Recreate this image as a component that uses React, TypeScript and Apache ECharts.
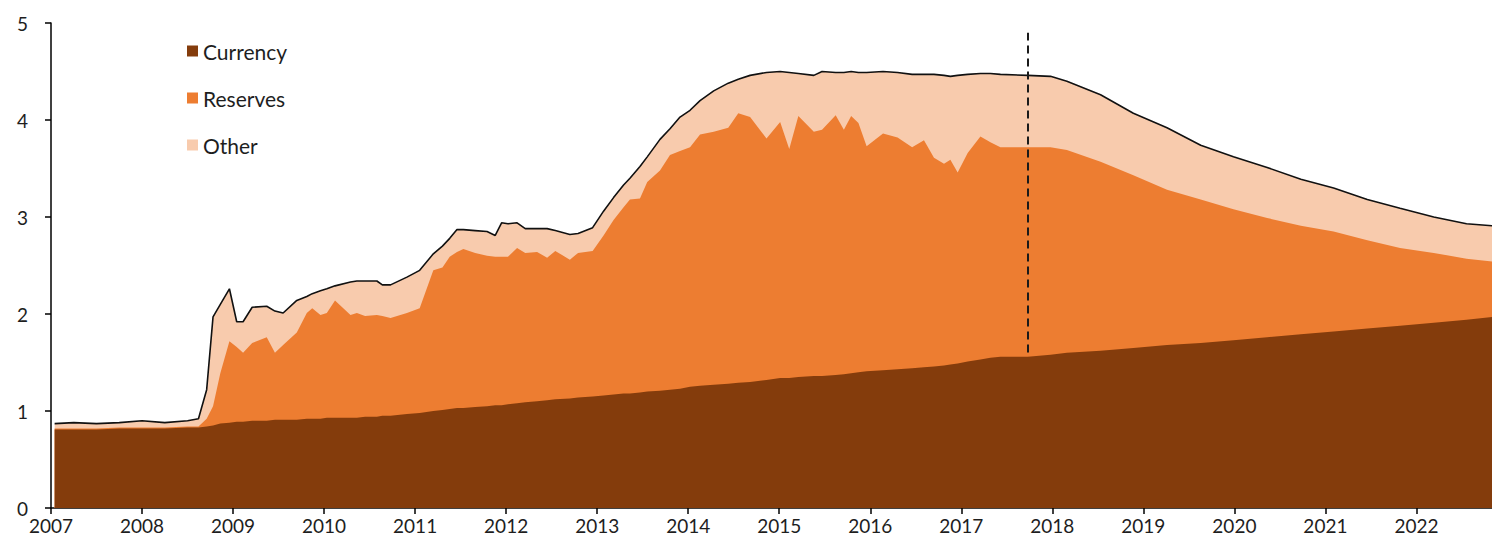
import React, { useEffect, useRef } from "react";
import * as echarts from "echarts";

// Dates (decimal years)
const dates = [
  2007.04, 2007.25, 2007.5, 2007.75, 2008.0, 2008.25, 2008.5, 2008.62, 2008.71, 2008.78,
  2008.86, 2008.96, 2009.04, 2009.11, 2009.21, 2009.37, 2009.46, 2009.55, 2009.7, 2009.81,
  2009.87, 2009.96, 2010.03, 2010.12, 2010.29, 2010.36, 2010.45, 2010.58, 2010.64, 2010.73,
  2010.91, 2011.05, 2011.2, 2011.3, 2011.38, 2011.46, 2011.53, 2011.66, 2011.79, 2011.88,
  2011.95, 2012.02, 2012.12, 2012.21, 2012.34, 2012.45, 2012.54, 2012.7, 2012.79, 2012.95,
  2013.07, 2013.18, 2013.29, 2013.36, 2013.47, 2013.55, 2013.69, 2013.8, 2013.91, 2014.02,
  2014.13, 2014.28, 2014.44, 2014.55, 2014.68, 2014.86, 2015.01, 2015.11, 2015.21, 2015.38,
  2015.47, 2015.62, 2015.71, 2015.79, 2015.87, 2015.96, 2016.14, 2016.3, 2016.46, 2016.59,
  2016.7, 2016.81, 2016.88, 2016.96, 2017.07, 2017.21, 2017.32, 2017.43, 2017.73, 2017.98,
  2018.16, 2018.53, 2018.89, 2019.26, 2019.63, 2019.99, 2020.36, 2020.73, 2021.09, 2021.46,
  2021.82, 2022.19, 2022.55, 2022.83,
];

// Trillions of dollars
const currency = [
  0.81, 0.81, 0.81, 0.82, 0.82, 0.82, 0.83, 0.83, 0.84, 0.85,
  0.87, 0.88, 0.89, 0.89, 0.9, 0.9, 0.91, 0.91, 0.91, 0.92,
  0.92, 0.92, 0.93, 0.93, 0.93, 0.93, 0.94, 0.94, 0.95, 0.95,
  0.97, 0.98, 1.0, 1.01, 1.02, 1.03, 1.03, 1.04, 1.05, 1.06,
  1.06, 1.07, 1.08, 1.09, 1.1, 1.11, 1.12, 1.13, 1.14, 1.15,
  1.16, 1.17, 1.18, 1.18, 1.19, 1.2, 1.21, 1.22, 1.23, 1.25,
  1.26, 1.27, 1.28, 1.29, 1.3, 1.32, 1.34, 1.34, 1.35, 1.36,
  1.36, 1.37, 1.38, 1.39, 1.4, 1.41, 1.42, 1.43, 1.44, 1.45,
  1.46, 1.47, 1.48, 1.49, 1.51, 1.53, 1.55, 1.56, 1.56, 1.58,
  1.6, 1.62, 1.65, 1.68, 1.7, 1.73, 1.76, 1.79, 1.82, 1.85,
  1.88, 1.91, 1.94, 1.97,
];

const reserves = [
  0.01, 0.01, 0.01, 0.01, 0.01, 0.01, 0.01, 0.01, 0.08, 0.2,
  0.52, 0.84, 0.77, 0.71, 0.8, 0.86, 0.69, 0.77, 0.9, 1.09,
  1.14, 1.07, 1.08, 1.21, 1.06, 1.08, 1.04, 1.05, 1.03, 1.01,
  1.04, 1.08, 1.45, 1.47, 1.57, 1.61, 1.64, 1.59, 1.55, 1.53,
  1.53, 1.52, 1.6, 1.54, 1.54, 1.47, 1.53, 1.43, 1.49, 1.5,
  1.65, 1.8, 1.92, 2.0, 2.0, 2.16, 2.27, 2.42, 2.45, 2.47,
  2.59, 2.61, 2.64, 2.78, 2.73, 2.49, 2.64, 2.36, 2.69, 2.52,
  2.54, 2.68, 2.52, 2.65, 2.57, 2.32, 2.44, 2.39, 2.28, 2.34,
  2.15, 2.08, 2.11, 1.97, 2.15, 2.3, 2.22, 2.16, 2.16, 2.14,
  2.09, 1.95, 1.78, 1.6, 1.48, 1.35, 1.23, 1.12, 1.03, 0.91,
  0.8, 0.72, 0.63, 0.57,
];

const other = [
  0.05, 0.06, 0.05, 0.05, 0.07, 0.05, 0.06, 0.08, 0.3, 0.92,
  0.71, 0.54, 0.26, 0.32, 0.37, 0.32, 0.43, 0.33, 0.33, 0.17,
  0.15, 0.25, 0.25, 0.15, 0.34, 0.33, 0.36, 0.35, 0.32, 0.34,
  0.37, 0.39, 0.17, 0.22, 0.19, 0.23, 0.2, 0.23, 0.25, 0.22,
  0.35, 0.34, 0.26, 0.25, 0.24, 0.3, 0.21, 0.26, 0.2, 0.24,
  0.25, 0.23, 0.23, 0.22, 0.33, 0.26, 0.32, 0.27, 0.35, 0.38,
  0.35, 0.42, 0.46, 0.35, 0.43, 0.68, 0.52, 0.79, 0.44, 0.58,
  0.6, 0.44, 0.59, 0.46, 0.52, 0.76, 0.64, 0.67, 0.75, 0.68,
  0.86, 0.91, 0.86, 1.0, 0.81, 0.65, 0.71, 0.75, 0.74, 0.73,
  0.71, 0.69, 0.64, 0.64, 0.56, 0.54, 0.52, 0.48, 0.45, 0.42,
  0.41, 0.37, 0.36, 0.37,
];

const seriesNames = ["Currency", "Reserves", "Other"];
const seriesColors = ["#843C0C", "#ED7D31", "#F8CBAD"];
const yTicks = [0, 1, 2, 3, 4, 5];
const xStart = 2007;
const xEnd = 2022.83;
const normalizationStart = 2017.73;
const markLineRange = [0.13, 4.9];

const FONT = "Lato, 'Open Sans', sans-serif";
const TEXT = "#1e1e1e";

export default function App() {
  const ref = useRef<HTMLDivElement>(null);

  useEffect(() => {
    document.body.style.margin = "0";
    if (!ref.current) return;
    const chart = echarts.init(ref.current, undefined, { renderer: "svg" });

    // Stack the components (currency at the bottom, then reserves, then other)
    const layers = [currency, reserves, other];
    const cumulative: number[][] = [];
    layers.forEach((vals, i) => {
      cumulative.push(
        vals.map((v, k) => +(v + (i > 0 ? cumulative[i - 1][k] : 0)).toFixed(4))
      );
    });

    const series: any[] = [];
    // draw top layer first so lower layers are painted over it
    for (let i = layers.length - 1; i >= 0; i--) {
      series.push({
        name: seriesNames[i],
        type: "line",
        symbol: "none",
        data: cumulative[i].map((v, k) => [dates[k], v]),
        areaStyle: { color: seriesColors[i], opacity: 1, origin: "start" },
        itemStyle: { color: seriesColors[i] },
        lineStyle:
          i === 2
            ? { color: "#111", width: 1.6 }
            : { width: 0, color: seriesColors[i] },
        z: 2 + (layers.length - i),
        tooltip: { show: false },
      });
    }
    series.push({
      name: "normalization",
      type: "line",
      symbol: "none",
      data: [],
      z: 10,
      markLine: {
        silent: true,
        symbol: "none",
        label: { show: false },
        lineStyle: { type: [8, 5], color: "#1a1a1a", width: 2 },
        data: [
          [
            { coord: [normalizationStart, markLineRange[0]] },
            { coord: [normalizationStart, markLineRange[1]] },
          ],
        ],
      },
    });

    chart.setOption({
      animation: false,
      grid: { left: 51, right: 0, top: 23, bottom: 39, containLabel: false },
      legend: {
        data: seriesNames,
        orient: "vertical",
        left: 182,
        top: 34,
        itemGap: 23,
        itemWidth: 11,
        itemHeight: 11,
        icon: "rect",
        textStyle: { fontFamily: FONT, fontSize: 21, color: TEXT, lineHeight: 24 },
        selectedMode: false,
      },
      xAxis: {
        type: "value",
        min: xStart,
        max: xEnd,
        interval: 1,
        splitLine: { show: false },
        axisLine: { show: true, lineStyle: { color: "#000", width: 1.5 } },
        axisTick: { show: true, length: 6, lineStyle: { color: "#000", width: 1.5 } },
        axisLabel: {
          fontFamily: FONT,
          fontSize: 19,
          color: TEXT,
          margin: 8,
          showMaxLabel: false,
          formatter: (v: number) => String(Math.round(v)),
        },
      },
      yAxis: {
        type: "value",
        min: yTicks[0],
        max: yTicks[yTicks.length - 1],
        interval: 1,
        splitLine: { show: false },
        axisLine: { show: true, lineStyle: { color: "#000", width: 1.5 } },
        axisTick: { show: true, length: 6, lineStyle: { color: "#000", width: 1.5 } },
        axisLabel: { fontFamily: FONT, fontSize: 19, color: TEXT, margin: 23 },
      },
      series,
    });
    return () => chart.dispose();
  }, []);

  return <div ref={ref} style={{ width: 1492, height: 547 }} />;
}
